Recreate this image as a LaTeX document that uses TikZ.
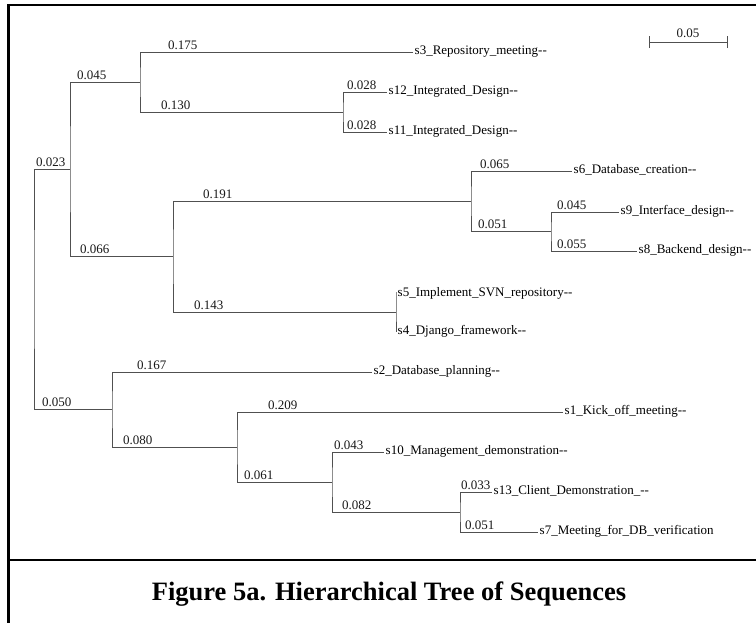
\documentclass[tikz,border=0pt]{standalone}
\usepackage{fontspec}
\setmainfont{Liberation Serif}
\definecolor{treegray}{RGB}{80,80,80}
\begin{document}
\begin{tikzpicture}[x=1pt,y=-1pt,
  branch/.style={draw=treegray,line width=0.9pt},
  blen/.style={anchor=base west,inner sep=0pt,font=\fontsize{13}{15}\selectfont,text=black!90},
  leaf/.style={anchor=mid west,inner sep=0pt,font=\fontsize{13}{15}\selectfont,xshift=1.5pt},
  frameline/.style={line width=2.2pt,draw=black},
  caption/.style={anchor=base,inner sep=0pt,font=\fontsize{26.5}{30}\selectfont\bfseries}]
\useasboundingbox (0,0) rectangle (756,622);
\fill[white] (0,0) rectangle (756,622);
% frame
\coordinate (fBL) at (8.5,623);
\coordinate (fTL) at (8.5,5);
\coordinate (fTR) at (757,5);
\coordinate (sepL) at (8.5,560);
\coordinate (sepR) at (757,560);
\draw[frameline] (fBL) -- (fTL) -- (fTR);
\draw[frameline] (sepL) -- (sepR);
% internal nodes
\coordinate (R) at (34,289.25);
\coordinate (A) at (70,169);
\coordinate (B) at (140,82);
\coordinate (C) at (343,112);
\coordinate (D) at (173,256.5);
\coordinate (E) at (471,201);
\coordinate (F) at (551,231.5);
\coordinate (G) at (396,312);
\coordinate (K) at (112,409.5);
\coordinate (J) at (237,447);
\coordinate (I) at (332,482);
\coordinate (H) at (460,512);
% leaves
\coordinate (s3) at (413,52);
\coordinate (s12) at (387,92);
\coordinate (s11) at (387,132);
\coordinate (s6) at (572,171);
\coordinate (s9) at (619,212);
\coordinate (s8) at (637,251);
\coordinate (s5) at (396,292);
\coordinate (s4) at (396,332);
\coordinate (s2) at (372,372);
\coordinate (s1) at (563,412);
\coordinate (s10) at (384,452);
\coordinate (s13) at (492,492);
\coordinate (s7) at (538,532);
% branches
\draw[branch] (A) -| (R) |- (K);
\draw[branch] (B) -| (A) |- (D);
\draw[branch] (s3) -| (B) |- (C);
\draw[branch] (s12) -| (C) |- (s11);
\draw[branch] (E) -| (D) |- (G);
\draw[branch] (s6) -| (E) |- (F);
\draw[branch] (s9) -| (F) |- (s8);
\draw[branch] (s5) -| (G) |- (s4);
\draw[branch] (s2) -| (K) |- (J);
\draw[branch] (s1) -| (J) |- (I);
\draw[branch] (s10) -| (I) |- (H);
\draw[branch] (s13) -| (H) |- (s7);
% leaf labels
\node[leaf] (t3) at (s3) {s3\_Repository\_meeting-{}-};
\node[leaf] (t12) at (s12) {s12\_Integrated\_Design-{}-};
\node[leaf] (t11) at (s11) {s11\_Integrated\_Design-{}-};
\node[leaf] (t6) at (s6) {s6\_Database\_creation-{}-};
\node[leaf] (t9) at (s9) {s9\_Interface\_design-{}-};
\node[leaf] (t8) at (s8) {s8\_Backend\_design-{}-};
\node[leaf] (t5) at (396,294.5) {s5\_Implement\_SVN\_repository-{}-};
\node[leaf] (t4) at (396,332.5) {s4\_Django\_framework-{}-};
\node[leaf] (t2) at (s2) {s2\_Database\_planning-{}-};
\node[leaf] (t1) at (s1) {s1\_Kick\_off\_meeting-{}-};
\node[leaf] (t10) at (s10) {s10\_Management\_demonstration-{}-};
\node[leaf] (t13) at (s13) {s13\_Client\_Demonstration\_-{}-};
\node[leaf] (t7) at (s7) {s7\_Meeting\_for\_DB\_verification};
% branch length labels
\node[blen] (b1) at (36,166) {0.023};
\node[blen] (b2) at (77,79) {0.045};
\node[blen] (b3) at (168,49) {0.175};
\node[blen] (b4) at (161,109) {0.130};
\node[blen] (b5) at (347,89) {0.028};
\node[blen] (b6) at (347,129) {0.028};
\node[blen] (b7) at (80,253.5) {0.066};
\node[blen] (b8) at (203,198) {0.191};
\node[blen] (b9) at (480,168) {0.065};
\node[blen] (b10) at (478,228.5) {0.051};
\node[blen] (b11) at (557,209) {0.045};
\node[blen] (b12) at (557,248) {0.055};
\node[blen] (b13) at (194,309) {0.143};
\node[blen] (b14) at (42,406.5) {0.050};
\node[blen] (b15) at (137,369) {0.167};
\node[blen] (b16) at (123,444) {0.080};
\node[blen] (b17) at (268,409) {0.209};
\node[blen] (b18) at (244,479) {0.061};
\node[blen] (b19) at (334,449) {0.043};
\node[blen] (b20) at (342,509) {0.082};
\node[blen] (b21) at (461,489) {0.033};
\node[blen] (b22) at (465,529) {0.051};
% scale bar
\coordinate (sbL) at (649,42);
\coordinate (sbR) at (727,42);
\draw[branch] (sbL) -- (sbR);
\draw[branch] ([yshift=-6pt]sbL) -- ([yshift=6pt]sbL);
\draw[branch] ([yshift=-6pt]sbR) -- ([yshift=6pt]sbR);
\node[blen,anchor=base] (sblabel) at (688,37.5) {0.05};
% caption
\node[caption] (cap) at (389,600) {Figure 5a. Hierarchical Tree of Sequences};
\end{tikzpicture}
\end{document}
